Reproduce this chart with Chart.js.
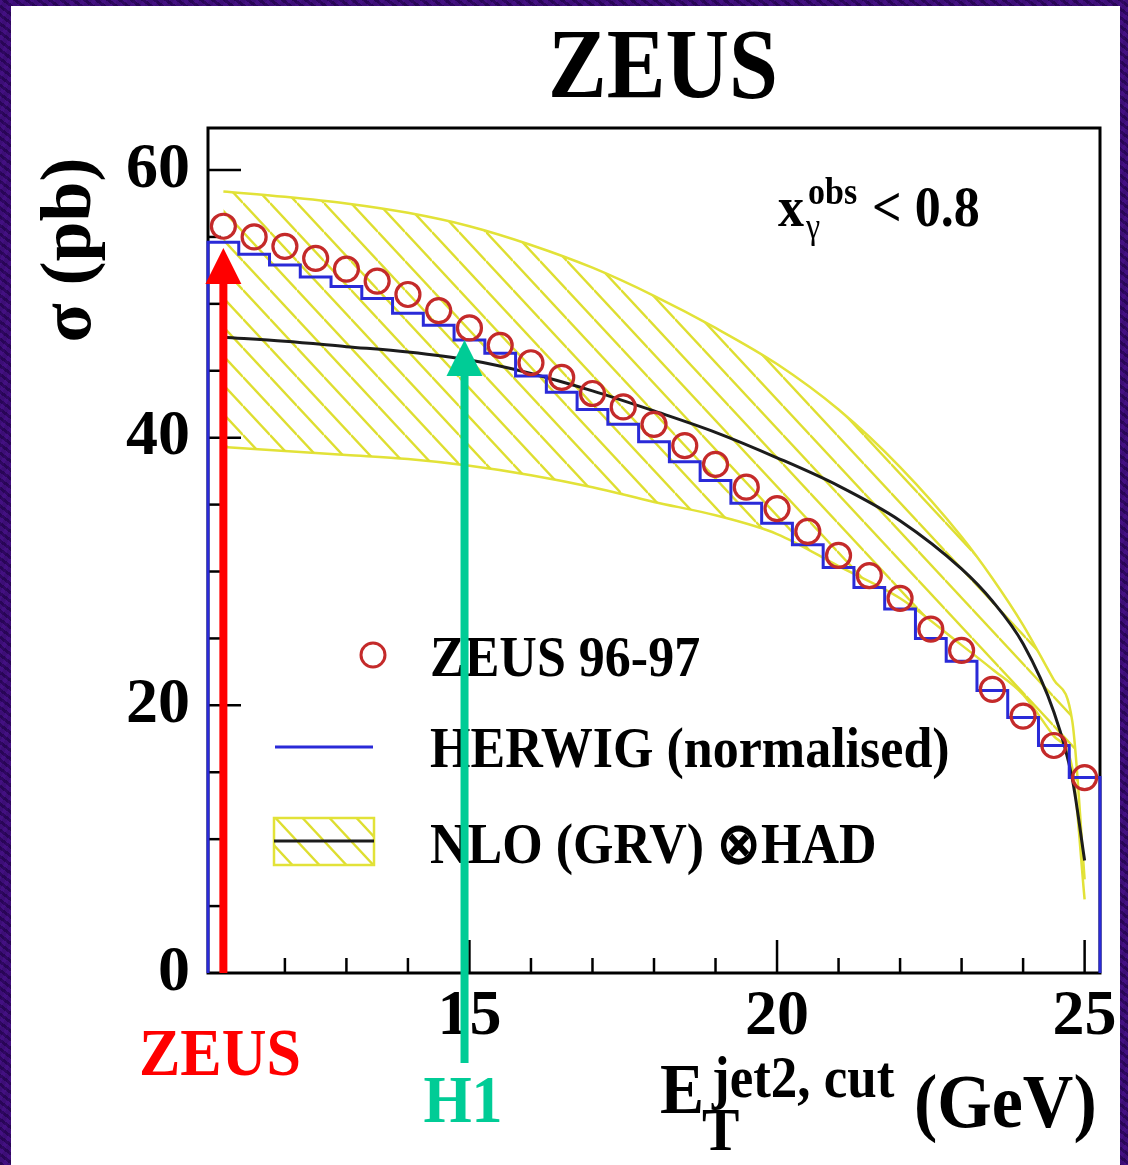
<!DOCTYPE html>
<html>
<head>
<meta charset="utf-8">
<script src="https://cdn.jsdelivr.net/npm/chart.js@4.4.1/dist/chart.umd.min.js"></script>
<style>
  html, body { margin: 0; padding: 0; }
  body {
    width: 1128px; height: 1165px; overflow: hidden; position: relative;
    background:
      repeating-linear-gradient(37deg, rgba(20,0,50,0.35) 0 3px, rgba(90,30,160,0.25) 3px 7px),
      repeating-linear-gradient(-61deg, rgba(60,10,120,0.3) 0 4px, rgba(30,0,70,0.3) 4px 9px),
      #3c0c78;
  }
  #panel { position: absolute; left: 11px; top: 6px; width: 1109px; height: 1159px; background: #fff; }
  #chart { position: absolute; left: 0; top: 0; }
</style>
</head>
<body>
<div id="panel"></div>
<canvas id="chart" width="1128" height="1165"></canvas>
<script>
// E_T^{jet2,cut} bins (GeV), one per measured point
const etBins = [11, 11.5, 12, 12.5, 13, 13.5, 14, 14.5, 15, 15.5, 16, 16.5, 17, 17.5, 18,
                18.5, 19, 19.5, 20, 20.5, 21, 21.5, 22, 22.5, 23, 23.5, 24, 24.5, 25];
const binHalf = 0.25;

// ZEUS 96-97 data (pb)
const zeus = [55.8, 55.0, 54.3, 53.4, 52.6, 51.7, 50.7, 49.5, 48.2, 46.9, 45.6, 44.5, 43.3, 42.3, 41.0,
              39.4, 38.0, 36.3, 34.7, 33.0, 31.2, 29.7, 28.0, 25.7, 24.1, 21.2, 19.2, 17.0, 14.6];

// HERWIG (normalised), histogram
const herwig = [54.6, 53.7, 52.9, 52.0, 51.3, 50.4, 49.3, 48.4, 47.3, 46.3, 44.6, 43.4, 42.1, 41.0, 39.7,
                38.2, 36.8, 35.1, 33.6, 32.0, 30.3, 28.8, 27.2, 25.0, 23.3, 21.1, 19.1, 17.0, 14.6];

// NLO (GRV) x HAD : central value and uncertainty band
const nloX       = [11, 12, 13, 14, 15, 16, 17, 18, 19, 20, 21, 22, 23, 23.5, 24, 24.5, 24.8, 25];
const nloCentral = [47.5, 47.2, 46.8, 46.4, 45.8, 44.8, 43.5, 42.0, 40.4, 38.5, 36.4, 33.8, 30.2, 27.8, 24.6, 19.5, 14.5, 8.4];
const nloUpper   = [58.4, 58.0, 57.5, 56.8, 55.8, 54.4, 52.7, 50.6, 48.2, 45.5, 42.1, 37.8, 32.6, 29.5, 26.0, 21.9, 18.8, 7.0];
const nloLower   = [39.3, 39.0, 38.7, 38.4, 37.9, 37.2, 36.3, 35.2, 34.2, 32.8, 30.4, 28.0, 24.5, 22.7, 20.8, 17.7, 15.3, 5.5];

// axis tick labels
const xTickLabels = [15, 20, 25];
const yTickLabels = [0, 20, 40, 60];

// the two arrows under the plot (E_T cut of each experiment)
const arrowNames = ['ZEUS', 'H1'];
const arrowCuts = [11, 14.92];

const serif = "'Liberation Serif', 'Times New Roman', serif";
const YELLOW = 'rgb(226,226,56)';
const RED_DATA = '#c42a2a';
const BLUE = '#2a2ad8';

const canvas = document.getElementById('chart');
const mainCtx = canvas.getContext('2d');

// diagonal hatch used for the NLO band
function makeHatch() {
    let c = document.createElement('canvas');
    c.width = 27;
    c.height = 29;
    let g = c.getContext('2d');
    g.strokeStyle = 'rgb(222,222,48)';
    g.lineWidth = 2.4;
    for (let k = -1; k <= 1; k++) {
        g.beginPath();
        g.moveTo(0, k * 29);
        g.lineTo(27, 29 + k * 29);
        g.stroke();
    }
    return mainCtx.createPattern(c, 'repeat');
}
const hatch = makeHatch();

const pts = (xs, ys) => xs.map((v, i) => ({ x: v, y: ys[i] }));

const herwigSteps = [{ x: etBins[0] - binHalf, y: 0 }]
    .concat(etBins.map((v, i) => ({ x: v - binHalf, y: herwig[i] })))
    .concat([{ x: etBins[etBins.length - 1] + binHalf, y: 0 }]);

function label(ctx, str, x, y, size, opt) {
    opt = opt || {};
    ctx.save();
    ctx.font = (opt.weight || 'bold') + ' ' + size + 'px ' + serif;
    ctx.fillStyle = opt.color || '#000';
    ctx.textAlign = opt.align || 'left';
    ctx.textBaseline = 'alphabetic';
    ctx.translate(x, y);
    if (opt.rotate) ctx.rotate(opt.rotate);
    ctx.scale(1, opt.sy || 1.1);
    ctx.fillText(str, 0, 0);
    ctx.restore();
}

function arrow(ctx, px, tipY, baseY, color) {
    ctx.save();
    ctx.fillStyle = color;
    ctx.fillRect(px - 4, tipY + 34, 8, baseY - tipY - 34);
    ctx.beginPath();
    ctx.moveTo(px, tipY);
    ctx.lineTo(px - 18, tipY + 36);
    ctx.lineTo(px + 18, tipY + 36);
    ctx.closePath();
    ctx.fill();
    ctx.restore();
}

const decor = {
    id: 'decor',
    beforeDatasetsDraw(chart) {
        const ctx = chart.ctx;
        const a = chart.chartArea;
        const x = chart.scales.x, y = chart.scales.y;
        ctx.save();
        ctx.strokeStyle = '#000';
        ctx.lineWidth = 3;
        ctx.strokeRect(a.left, a.top, a.right - a.left, a.bottom - a.top);
        ctx.lineWidth = 2.5;
        // ticks point into the frame
        for (let v = 11; v <= 25; v++) {
            let px = x.getPixelForValue(v);
            let len = v % 5 === 0 ? 33 : 15;
            ctx.beginPath();
            ctx.moveTo(px, a.bottom);
            ctx.lineTo(px, a.bottom - len);
            ctx.stroke();
        }
        for (let v = 5; v <= 60; v += 5) {
            let py = y.getPixelForValue(v);
            let len = v % 20 === 0 ? 33 : 13;
            ctx.beginPath();
            ctx.moveTo(a.left, py);
            ctx.lineTo(a.left + len, py);
            ctx.stroke();
        }
        ctx.restore();
    },
    afterDatasetsDraw(chart) {
        const ctx = chart.ctx;
        const a = chart.chartArea;
        const x = chart.scales.x;

        // title and axis titles
        label(ctx, 'ZEUS', 663, 97, 88, { align: 'center', sy: 1.12 });
        label(ctx, 'σ (pb)', 90, 250, 72, { align: 'center', rotate: -Math.PI / 2, sy: 1.0 });
        label(ctx, 'E', 660, 1113, 66);
        label(ctx, 'T', 702, 1150, 56);
        label(ctx, 'jet2, cut', 712, 1097, 53);
        label(ctx, '(GeV)', 914, 1127, 70);

        // cut label inside the frame
        label(ctx, 'x', 778, 226, 52);
        label(ctx, 'obs', 808, 204, 34);
        label(ctx, 'γ', 806, 238, 32, { weight: 'normal' });
        label(ctx, '< 0.8', 872, 226, 52);

        // legend
        ctx.save();
        ctx.strokeStyle = RED_DATA;
        ctx.lineWidth = 3;
        ctx.beginPath();
        ctx.arc(373, 655, 12, 0, Math.PI * 2);
        ctx.stroke();
        ctx.strokeStyle = BLUE;
        ctx.beginPath();
        ctx.moveTo(275, 747);
        ctx.lineTo(373, 747);
        ctx.stroke();
        ctx.fillStyle = hatch;
        ctx.fillRect(274, 818, 100, 47);
        ctx.strokeStyle = YELLOW;
        ctx.lineWidth = 2.5;
        ctx.strokeRect(274, 818, 100, 47);
        ctx.strokeStyle = '#1c1c1c';
        ctx.lineWidth = 3;
        ctx.beginPath();
        ctx.moveTo(274, 841);
        ctx.lineTo(374, 841);
        ctx.stroke();
        ctx.restore();
        label(ctx, 'ZEUS 96-97', 430, 676, 52);
        label(ctx, 'HERWIG (normalised)', 430, 767, 52);
        label(ctx, 'NLO (GRV) ⊗HAD', 430, 863, 52);

        // arrows
        const red = '#ff0000', green = '#00cc96';
        arrow(ctx, x.getPixelForValue(arrowCuts[0]), 248, a.bottom, red);
        arrow(ctx, x.getPixelForValue(arrowCuts[1]), 340, 1063, green);
        label(ctx, arrowNames[0], 220, 1075, 62, { align: 'center', color: red });
        label(ctx, arrowNames[1], 463, 1122, 62, { align: 'center', color: green });
    }
};

const tickFont = { family: serif, size: 64, weight: 'bold' };

new Chart(canvas, {
    type: 'line',
    data: {
        datasets: [
            {
                label: 'ZEUS 96-97',
                data: pts(etBins, zeus),
                showLine: false,
                pointStyle: 'circle',
                pointRadius: 12,
                pointBorderWidth: 3.2,
                pointBorderColor: RED_DATA,
                pointBackgroundColor: 'rgba(0,0,0,0)',
                order: 0,
                clip: false,
            },
            {
                label: 'HERWIG (normalised)',
                data: herwigSteps,
                stepped: 'before',
                borderColor: BLUE,
                borderWidth: 3,
                pointRadius: 0,
                fill: false,
                order: 1,
                clip: false,
            },
            {
                label: 'NLO (GRV) x HAD',
                data: pts(nloX, nloCentral),
                borderColor: '#1c1c1c',
                borderWidth: 3,
                pointRadius: 0,
                cubicInterpolationMode: 'monotone',
                fill: false,
                order: 2,
            },
            {
                label: 'NLO upper',
                data: pts(nloX, nloUpper),
                borderColor: YELLOW,
                borderWidth: 2.5,
                backgroundColor: hatch,
                pointRadius: 0,
                cubicInterpolationMode: 'monotone',
                fill: '+1',
                order: 3,
            },
            {
                label: 'NLO lower',
                data: pts(nloX, nloLower),
                borderColor: YELLOW,
                borderWidth: 2.5,
                pointRadius: 0,
                cubicInterpolationMode: 'monotone',
                fill: false,
                order: 4,
            },
        ],
    },
    options: {
        responsive: false,
        animation: false,
        layout: { padding: { top: 128, right: 28, left: 0, bottom: 0 } },
        plugins: {
            legend: { display: false },
            tooltip: { enabled: false },
        },
        scales: {
            x: {
                type: 'linear',
                min: 10.75,
                max: 25.25,
                afterFit: function (s) { s.height = 192; },
                afterBuildTicks: function (s) { s.ticks = xTickLabels.map(v => ({ value: v })); },
                grid: { display: false, drawTicks: false },
                border: { display: false },
                ticks: { font: tickFont, color: '#000', padding: 6, maxRotation: 0, autoSkip: false },
            },
            y: {
                type: 'linear',
                min: 0,
                max: 63.14,
                afterFit: function (s) { s.width = 208; },
                afterBuildTicks: function (s) { s.ticks = yTickLabels.map(v => ({ value: v })); },
                grid: { display: false, drawTicks: false },
                border: { display: false },
                ticks: { font: tickFont, color: '#000', padding: 18, autoSkip: false },
            },
        },
    },
    plugins: [decor],
});
</script>
</body>
</html>
